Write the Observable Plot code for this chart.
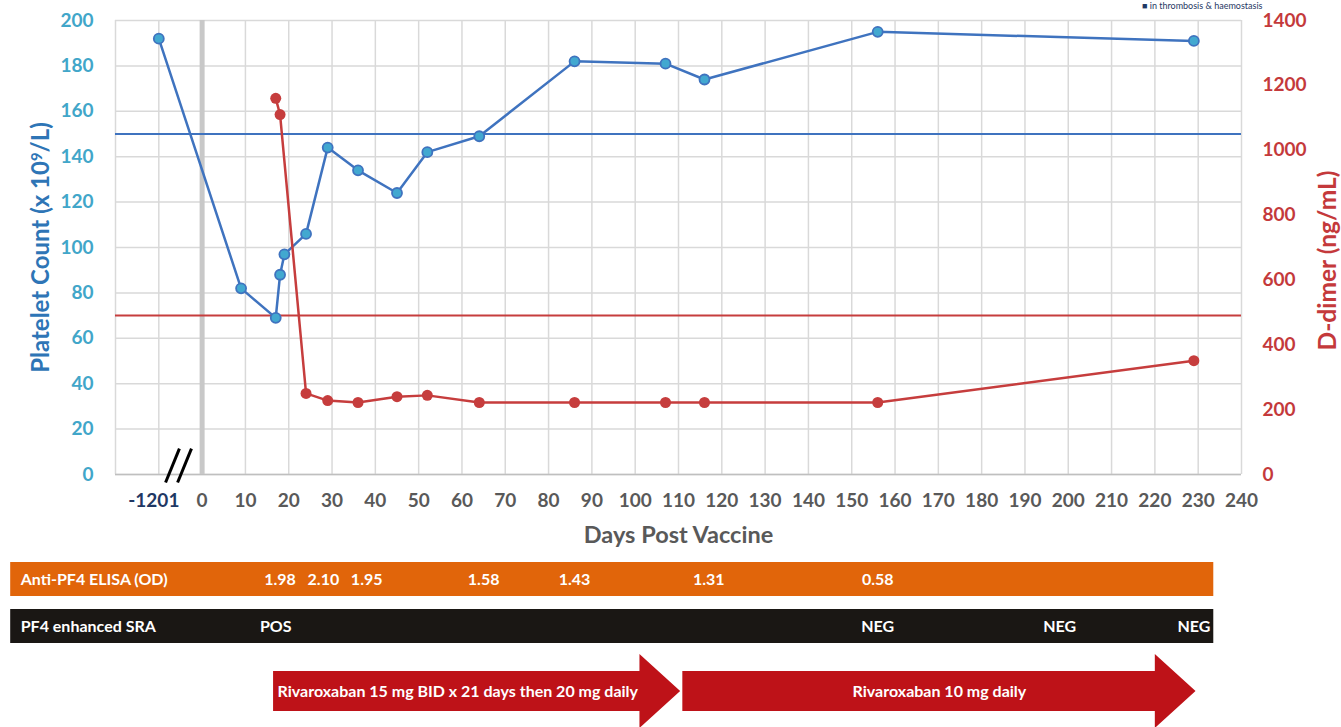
<!DOCTYPE html>
<html><head><meta charset="utf-8">
<script src="https://cdn.jsdelivr.net/npm/d3@7"></script>
<script src="https://cdn.jsdelivr.net/npm/@observablehq/plot@0.6"></script>
<style>
html,body{margin:0;padding:0;background:#fff;}
#chart svg{display:block;}
</style></head><body><div id="chart"></div>
<script>
// ---- data ----
const plateletDays   = [-1201, 9, 17, 18, 19, 24, 29, 36, 45, 52, 64, 86, 107, 116, 156, 229];
const plateletCounts = [192, 82, 69, 88, 97, 106, 144, 134, 124, 142, 149, 182, 181, 174, 195, 191];
const ddimerDays   = [17, 18, 24, 29, 36, 45, 52, 64, 86, 107, 116, 156, 229];
const ddimerValues = [1160, 1110, 250, 228, 222, 240, 244, 222, 222, 222, 222, 222, 351];
const plateletThreshold = 150;
const ddimerThreshold = 490;
const xTickValues = [-1201, 0, 10, 20, 30, 40, 50, 60, 70, 80, 90, 100, 110, 120, 130, 140, 150, 160, 170, 180, 190, 200, 210, 220, 230, 240];
const plateletTicks = [0, 20, 40, 60, 80, 100, 120, 140, 160, 180, 200];
const ddimerTicks = [0, 200, 400, 600, 800, 1000, 1200, 1400];
const elisaDays = [18, 28, 38, 65, 86, 117, 156];
const elisaValues = ["1.98", "2.10", "1.95", "1.58", "1.43", "1.31", "0.58"];
const sraDays = [17, 156, 198, 229];
const sraResults = ["POS", "NEG", "NEG", "NEG"];
const treatmentStart = [16.5, 111];
const treatmentEnd = [110.5, 229.5];
const treatmentLabels = ["Rivaroxaban 15 mg BID x 21 days then 20 mg daily", "Rivaroxaban 10 mg daily"];
const rowLabels = ["Anti-PF4 ELISA (OD)", "PF4 enhanced SRA"];

// ---- helpers ----
const pos = d => d < 0 ? -10 : d;          // broken axis: pre-vaccine sample sits at -10
const ratio = ddimerTicks[ddimerTicks.length - 1] / plateletTicks[plateletTicks.length - 1];
const platelets = plateletDays.map((d, i) => ({x: pos(d), y: plateletCounts[i]}));
const ddimer = ddimerDays.map((d, i) => ({x: pos(d), y: ddimerValues[i] / ratio}));
const W = 1341, ML = 115, MR = 100;
const xDomain = [-20, 240];
const font = "Lato, 'Open Sans', sans-serif";
const BLUE = "#3F73BF", TEAL = "#42A8D0", RED = "#C63D3D", GRAY = "#595959", NAVY = "#1F3864";
const gridXs = d3.range(-20, 241, 10);
const txt = {fontFamily: font, fontWeight: "bold"};

const p1 = Plot.plot({
  width: W, height: 548, marginTop: 20, marginBottom: 74, marginLeft: ML, marginRight: MR,
  style: {fontFamily: font, background: "white", overflow: "visible"},
  x: {domain: xDomain},
  y: {domain: [0, 200]},
  marks: [
    Plot.gridX(gridXs, {stroke: "#D9D9D9", strokeOpacity: 1, strokeWidth: 1.5}),
    Plot.gridY(plateletTicks, {stroke: "#D9D9D9", strokeOpacity: 1, strokeWidth: 1.5}),
    Plot.ruleY([0], {stroke: "#BFBFBF", strokeWidth: 1.5}),
    Plot.ruleX([0], {stroke: "#C8C8C8", strokeWidth: 5}),
    Plot.ruleY([plateletThreshold], {stroke: BLUE, strokeWidth: 2}),
    Plot.ruleY([ddimerThreshold / ratio], {stroke: RED, strokeWidth: 2}),
    Plot.line(platelets, {x: "x", y: "y", stroke: BLUE, strokeWidth: 2.5}),
    Plot.dot(platelets, {x: "x", y: "y", r: 5, fill: TEAL, stroke: BLUE, strokeWidth: 1.8}),
    Plot.line(ddimer, {x: "x", y: "y", stroke: RED, strokeWidth: 2.5}),
    Plot.dot(ddimer, {x: "x", y: "y", r: 5.5, fill: RED}),
    // axis break marks
    Plot.link([-1.39, 1.39], {x1: o => -5.45 + o - 1.6, x2: o => -5.45 + o + 1.6, y1: -3.5, y2: 11.4, stroke: "black", strokeWidth: 3}),
    Plot.axisY(plateletTicks, {anchor: "left", tickSize: 0, tickPadding: 22, fill: "#41A6C9", fontSize: 19, ...txt, label: null}),
    Plot.axisY(ddimerTicks.map(v => v / ratio), {anchor: "right", tickSize: 0, tickPadding: 21, tickFormat: v => String(Math.round(v * ratio)), fill: "#C4393B", fontSize: 19, ...txt, label: null}),
    Plot.axisX(xTickValues.filter(d => d >= 0), {anchor: "bottom", tickSize: 0, tickPadding: 19, fill: GRAY, fontSize: 19, ...txt, label: null}),
    Plot.axisX(xTickValues.filter(d => d < 0).map(pos), {anchor: "bottom", tickSize: 0, tickPadding: 19, dx: -5, tickFormat: () => String(xTickValues.find(d => d < 0)), fill: NAVY, fontSize: 19, ...txt, label: null}),
    Plot.text(["Platelet Count (x 10⁹/L)"], {frameAnchor: "left", rotate: -90, dx: -74, fontSize: 24, fill: "#2E75B6", ...txt, textAnchor: "middle", lineAnchor: "middle"}),
    Plot.text(["D-dimer (ng/mL)"], {frameAnchor: "right", rotate: -90, dx: 87, dy: 13, fontSize: 24.5, fill: "#C4393B", ...txt, textAnchor: "middle", lineAnchor: "middle"}),
    Plot.text(["Days Post Vaccine"], {frameAnchor: "bottom", dy: 61, fontSize: 23.5, fill: GRAY, ...txt, textAnchor: "middle", lineAnchor: "middle"}),
    Plot.text(["■ in thrombosis & haemostasis"], {frameAnchor: "top-right", dx: 21, dy: -12, textAnchor: "end", lineAnchor: "bottom", fontSize: 9, fill: NAVY, fontFamily: font})
  ]
});

// real superscript for 10^9
d3.select(p1).selectAll("text").filter(function() { return this.textContent.includes("⁹"); }).each(function() {
  const t = d3.select(this);
  const parts = this.textContent.split("⁹");
  t.text(null);
  t.append("tspan").text(parts[0]);
  t.append("tspan").attr("dy", "-0.45em").attr("font-size", "0.62em").text("9");
  t.append("tspan").attr("dy", "0.28em").text(parts[1]);
});

// ---- bottom annotation panel (same x scale) ----
const H2 = 179;
const barLeft = -44.2, barRight = 233.6;
const rows = [
  {label: rowLabels[0], y1: 14, y2: 48, fill: "#E1650A"},
  {label: rowLabels[1], y1: 61, y2: 95, fill: "#1A1714"}
];
const elisa = elisaDays.map((d, i) => ({x: d, y: (rows[0].y1 + rows[0].y2) / 2, t: elisaValues[i]}));
const sra = sraDays.map((d, i) => ({x: d, y: (rows[1].y1 + rows[1].y2) / 2, t: sraResults[i]}));
const bodyTop = 123, bodyBot = 163, headTop = 106, headBot = 180, mid = 143, headLen = 9.4;
const arrowPts = [];
treatmentStart.forEach((s, i) => {
  const e = treatmentEnd[i], h = e - headLen;
  arrowPts.push({id: i, x: s, y1: bodyTop, y2: bodyBot}, {id: i, x: h, y1: bodyTop, y2: bodyBot},
                {id: i, x: h, y1: headTop, y2: headBot}, {id: i, x: e, y1: mid, y2: mid});
});
const arrowLabels = treatmentLabels.map((t, i) => i === 0
  ? {x: treatmentStart[i], t, anchor: "start"}
  : {x: (treatmentStart[i] + treatmentEnd[i]) / 2, t, anchor: "middle"});

const p2 = Plot.plot({
  width: W, height: H2, marginTop: 0, marginBottom: 0, marginLeft: ML, marginRight: MR,
  style: {fontFamily: font, background: "white", overflow: "visible"},
  x: {domain: xDomain, axis: null},
  y: {domain: [0, H2], range: [0, H2], axis: null},
  marks: [
    Plot.rect(rows, {x1: () => barLeft, x2: () => barRight, y1: "y1", y2: "y2", fill: "fill"}),
    Plot.text(rows, {x: () => barLeft, y: r => (r.y1 + r.y2) / 2, text: "label", dx: 10, textAnchor: "start", fill: "white", fontSize: 16, ...txt}),
    Plot.text(elisa, {x: "x", y: "y", text: "t", fill: "white", fontSize: 16, ...txt}),
    Plot.text(sra, {x: "x", y: "y", text: "t", fill: "white", fontSize: 16, ...txt}),
    Plot.area(arrowPts, {x1: "x", y1: "y1", y2: "y2", z: "id", fill: "#BE1218", curve: "linear"}),
    Plot.text(arrowLabels.filter(d => d.anchor === "start"), {x: "x", y: () => mid, text: "t", dx: 4, textAnchor: "start", fill: "white", fontSize: 16, ...txt}),
    Plot.text(arrowLabels.filter(d => d.anchor === "middle"), {x: "x", y: () => mid, text: "t", textAnchor: "middle", fill: "white", fontSize: 16, ...txt})
  ]
});

const root = document.getElementById("chart");
root.append(p1, p2);
</script></body></html>
